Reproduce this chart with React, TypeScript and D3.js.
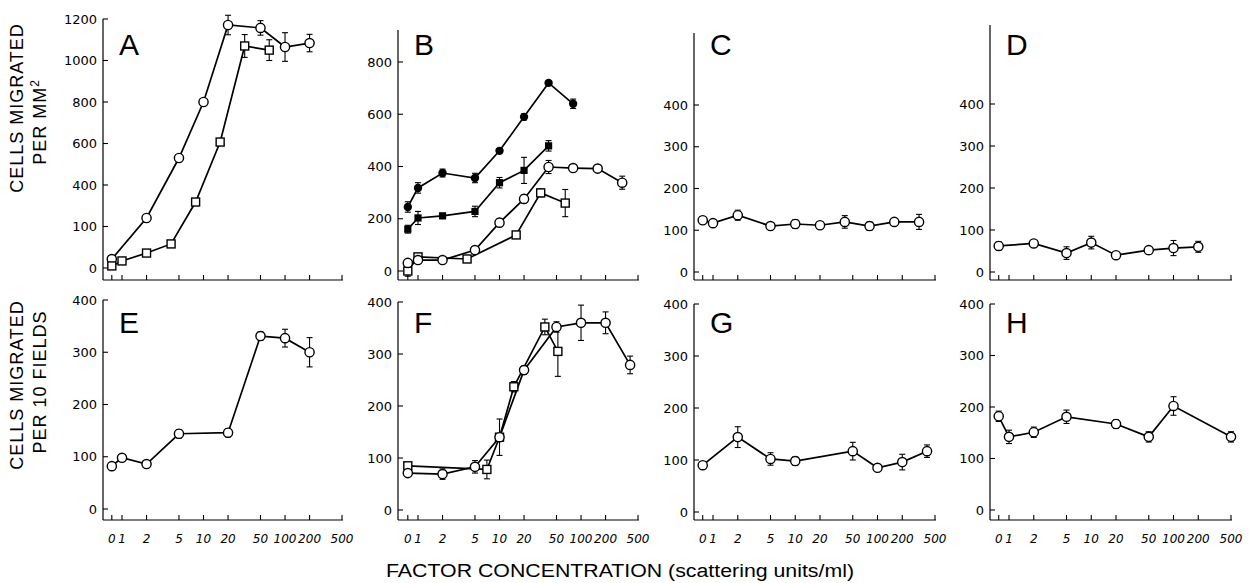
import * as d3 from 'd3';

const W = 1255;
const H = 583;

// x axis: broken log scale, "0" sits just left of 1
const xTicks = [0, 1, 2, 5, 10, 20, 50, 100, 200, 500];
const xTickLabels = ['0', '1', '2', '5', '10', '20', '50', '100', '200', '500'];
const ZERO_AT = 0.75;

// y ticks (panel A's second label is printed "100" in the original)
const aTicks = [0, 200, 400, 600, 800, 1000, 1200];
const aTickLabels = ['0', '100', '400', '600', '800', '1000', '1200'];
const bTicks = [0, 200, 400, 600, 800];
const smallTicks = [0, 100, 200, 300, 400];

// A
const aCircleConc = [0, 2, 5, 10, 20, 50, 100, 200];
const aCircleVal = [43, 241, 530, 800, 1171, 1157, 1065, 1084];
const aCircleErr = [0, 10, 10, 10, 47, 35, 69, 42];
const aSquareConc = [0, 1, 2, 4, 8, 16, 32, 64];
const aSquareVal = [10, 34, 72, 116, 318, 607, 1070, 1050];
const aSquareErr = [0, 12, 12, 15, 15, 12, 55, 50];

// B
const bDotConc = [0, 1, 2, 5, 10, 20, 40, 80];
const bDotVal = [245, 318, 375, 356, 460, 590, 720, 640];
const bDotErr = [20, 20, 15, 18, 8, 12, 8, 18];
const bFsqConc = [0, 1, 2, 5, 10, 20, 40];
const bFsqVal = [160, 203, 211, 228, 338, 385, 479];
const bFsqErr = [15, 25, 10, 20, 20, 50, 20];
const bCircleConc = [0, 1, 2, 5, 10, 20, 40, 80, 160, 320];
const bCircleVal = [31, 42, 42, 80, 185, 276, 398, 394, 392, 338];
const bCircleErr = [0, 10, 5, 10, 15, 15, 25, 8, 8, 25];
const bSquareConc = [0, 1, 4, 16, 32, 64];
const bSquareVal = [0, 54, 46, 138, 299, 260];
const bSquareErr = [20, 10, 8, 12, 15, 52];

// C, D
const cConc = [0, 1, 2, 5, 10, 20, 40, 80, 160, 320];
const cVal = [124, 117, 136, 110, 115, 112, 120, 110, 120, 120];
const cErr = [8, 8, 12, 6, 10, 8, 15, 10, 8, 18];
const dConc = [0, 2, 5, 10, 20, 50, 100, 200];
const dVal = [62, 68, 45, 70, 40, 52, 57, 60];
const dErr = [10, 7, 15, 15, 6, 7, 18, 13];

// E, F, G, H
const eConc = [0, 1, 2, 5, 20, 50, 100, 200];
const eVal = [82, 98, 86, 144, 146, 331, 327, 300];
const eErr = [6, 4, 5, 8, 8, 8, 17, 28];
const fCircleConc = [0, 2, 5, 10, 20, 50, 100, 200, 400];
const fCircleVal = [71, 69, 83, 140, 269, 352, 360, 360, 279];
const fCircleErr = [5, 10, 12, 35, 8, 10, 34, 21, 17];
const fSquareConc = [0, 7, 10, 15, 36, 52];
const fSquareVal = [85, 78, 140, 237, 352, 305];
const fSquareErr = [5, 18, 0, 10, 15, 48];
const gConc = [0, 2, 5, 10, 50, 100, 200, 400];
const gVal = [90, 144, 102, 98, 117, 85, 96, 117];
const gErr = [7, 20, 12, 8, 17, 5, 15, 12];
const hConc = [0, 1, 2, 5, 20, 50, 100, 500];
const hVal = [182, 142, 151, 181, 167, 142, 202, 142];
const hErr = [10, 13, 10, 13, 8, 10, 18, 10];

type Mark = 'circle' | 'square' | 'dot' | 'fsquare';
type Series = { conc: number[]; val: number[]; err: number[]; mark: Mark };

const ser = (conc: number[], val: number[], err: number[], mark: Mark): Series => ({ conc, val, err, mark });

// layout of the 4x2 grid
const colAxisX = [103, 398, 694, 990];
const colX1 = [122, 418, 713, 1009];
const colX500 = [342, 638, 935, 1231];
const rowAxisY = [280, 520];

const panels = [
  { letter: 'A', col: 0, row: 0, ticks: aTicks, labels: aTickLabels, yr: [268, 19], top: 19,
    series: [ser(aCircleConc, aCircleVal, aCircleErr, 'circle'), ser(aSquareConc, aSquareVal, aSquareErr, 'square')] },
  { letter: 'B', col: 1, row: 0, ticks: bTicks, labels: bTicks.map(String), yr: [271, 62], top: 30,
    series: [
      ser(bDotConc, bDotVal, bDotErr, 'dot'),
      ser(bFsqConc, bFsqVal, bFsqErr, 'fsquare'),
      ser(bSquareConc, bSquareVal, bSquareErr, 'square'),
      ser(bCircleConc, bCircleVal, bCircleErr, 'circle'),
    ] },
  { letter: 'C', col: 2, row: 0, ticks: smallTicks, labels: smallTicks.map(String), yr: [272, 105], top: 33,
    series: [ser(cConc, cVal, cErr, 'circle')] },
  { letter: 'D', col: 3, row: 0, ticks: smallTicks, labels: smallTicks.map(String), yr: [272, 104], top: 25,
    series: [ser(dConc, dVal, dErr, 'circle')] },
  { letter: 'E', col: 0, row: 1, ticks: smallTicks, labels: smallTicks.map(String), yr: [509, 300], top: 300,
    series: [ser(eConc, eVal, eErr, 'circle')] },
  { letter: 'F', col: 1, row: 1, ticks: smallTicks, labels: smallTicks.map(String), yr: [510, 302], top: 302,
    series: [ser(fSquareConc, fSquareVal, fSquareErr, 'square'), ser(fCircleConc, fCircleVal, fCircleErr, 'circle')] },
  { letter: 'G', col: 2, row: 1, ticks: smallTicks, labels: smallTicks.map(String), yr: [512, 304], top: 304,
    series: [ser(gConc, gVal, gErr, 'circle')] },
  { letter: 'H', col: 3, row: 1, ticks: smallTicks, labels: smallTicks.map(String), yr: [510, 304], top: 304,
    series: [ser(hConc, hVal, hErr, 'circle')] },
];

const tickFont = '"DejaVu Sans", sans-serif';
const titleFont = '"Liberation Sans", Arial, sans-serif';

function Marker({ mark, cx, cy }: { mark: Mark; cx: number; cy: number }) {
  if (mark === 'circle') return <circle cx={cx} cy={cy} r={4.6} fill="#fff" stroke="#000" strokeWidth={1.4} />;
  if (mark === 'dot') return <circle cx={cx} cy={cy} r={4.2} fill="#000" />;
  if (mark === 'square') return <rect x={cx - 4} y={cy - 4} width={8} height={8} fill="#fff" stroke="#000" strokeWidth={1.4} />;
  return <rect x={cx - 3.6} y={cy - 3.6} width={7.2} height={7.2} fill="#000" />;
}

function Panel({ p }: { p: (typeof panels)[number] }) {
  const x = d3.scaleLog().domain([1, 500]).range([colX1[p.col], colX500[p.col]]);
  const xs = (c: number) => x(c === 0 ? ZERO_AT : c);
  const y = d3.scaleLinear().domain([0, p.ticks[p.ticks.length - 1]]).range(p.yr);
  const ax = colAxisX[p.col];
  const ay = rowAxisY[p.row];
  return (
    <g>
      {/* axes */}
      <line x1={ax} x2={ax} y1={p.top} y2={ay} stroke="#000" strokeWidth={1.2} />
      <line x1={ax} x2={x(500) + 1} y1={ay} y2={ay} stroke="#000" strokeWidth={1.2} />
      {xTicks.map((t, i) => (
        <g key={'x' + t}>
          <line x1={xs(t)} x2={xs(t)} y1={ay} y2={ay - 5} stroke="#000" strokeWidth={1.1} />
          {p.row === 1 && (
            <text x={xs(t)} y={ay + 23} textAnchor="middle" fontFamily={tickFont} fontStyle="italic" fontSize={12}>
              {xTickLabels[i]}
            </text>
          )}
        </g>
      ))}
      {p.ticks.map((t, i) => (
        <g key={'y' + t}>
          <line x1={ax} x2={ax + 5} y1={y(t)} y2={y(t)} stroke="#000" strokeWidth={1.1} />
          <text x={ax - 6} y={y(t) + 4.5} textAnchor="end" fontFamily={tickFont} fontSize={13}>
            {p.labels[i]}
          </text>
        </g>
      ))}
      <text x={ax + 16} y={p.row === 0 ? 55 : 333} fontFamily={titleFont} fontSize={30}>
        {p.letter}
      </text>
      {/* series */}
      {p.series.map((s, si) => {
        const path = d3
          .line<number>()
          .x((c) => xs(c))
          .y((_, i) => y(s.val[i]))(s.conc);
        return (
          <g key={'s' + si}>
            <path d={path ?? ''} fill="none" stroke="#000" strokeWidth={1.7} />
            {s.conc.map((c, i) =>
              s.err[i] > 0 ? (
                <g key={'e' + i} stroke="#000" strokeWidth={1.1}>
                  <line x1={xs(c)} x2={xs(c)} y1={y(s.val[i] - s.err[i])} y2={y(s.val[i] + s.err[i])} />
                  <line x1={xs(c) - 3} x2={xs(c) + 3} y1={y(s.val[i] - s.err[i])} y2={y(s.val[i] - s.err[i])} />
                  <line x1={xs(c) - 3} x2={xs(c) + 3} y1={y(s.val[i] + s.err[i])} y2={y(s.val[i] + s.err[i])} />
                </g>
              ) : null
            )}
          </g>
        );
      })}
      {p.series.map((s, si) =>
        s.conc.map((c, i) => <Marker key={'m' + si + '-' + i} mark={s.mark} cx={xs(c)} cy={y(s.val[i])} />)
      )}
    </g>
  );
}

export default function App() {
  return (
    <svg width={W} height={H} style={{ position: 'absolute', left: 0, top: 0, background: '#fff' }}>
      <rect width={W} height={H} fill="#fff" />
      {panels.map((p) => (
        <Panel key={p.letter} p={p} />
      ))}
      <g fontFamily={titleFont} fontSize={18}>
        <text transform="translate(23,108) rotate(-90)" textAnchor="middle" letterSpacing={1}>
          CELLS MIGRATED
        </text>
        <text transform="translate(46,122) rotate(-90)" textAnchor="middle" letterSpacing={1}>
          PER MM<tspan dy={-7} fontSize={12}>2</tspan>
        </text>
        <text transform="translate(23,385) rotate(-90)" textAnchor="middle" letterSpacing={1}>
          CELLS MIGRATED
        </text>
        <text transform="translate(46,382) rotate(-90)" textAnchor="middle" letterSpacing={1}>
          PER 10 FIELDS
        </text>
        <text x={386} y={577} textLength={468} lengthAdjust="spacingAndGlyphs">
          FACTOR CONCENTRATION (scattering units/ml)
        </text>
      </g>
    </svg>
  );
}
